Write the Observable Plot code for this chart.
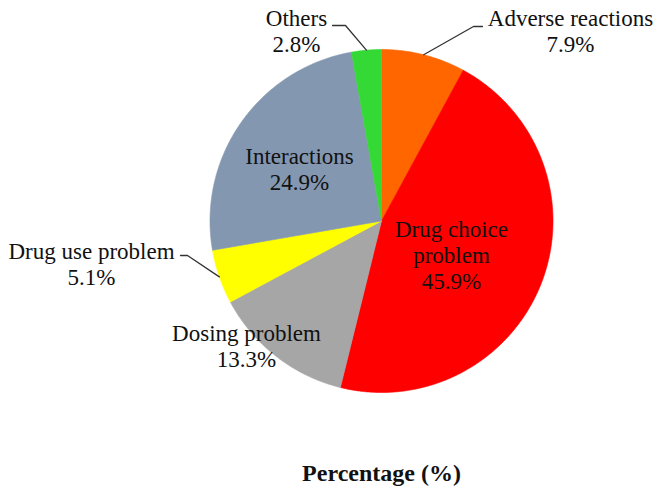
<!DOCTYPE html>
<html><head><meta charset="utf-8">
<script src="https://cdn.jsdelivr.net/npm/d3@7"></script>
<script src="https://cdn.jsdelivr.net/npm/@observablehq/plot@0.6"></script>
<style>body{margin:0;background:#fff}</style>
</head><body><div id="chart"></div>
<script>
// ---- data ----
const categories = ["Adverse reactions","Drug choice problem","Dosing problem","Drug use problem","Interactions","Others"];
const labelNames = ["Adverse reactions","Drug choice\nproblem","Dosing problem","Drug use problem","Interactions","Others"];
const values = [7.9, 45.9, 13.3, 5.1, 24.9, 2.8];
const colors = ["#FF6600","#FF0000","#A6A6A6","#FFFF00","#8497B0","#35D935"];
const titleText = "Percentage (%)";

// ---- layout (pixel placement of labels, in px of the 662x492 canvas) ----
const W = 662, H = 492, CX = 381, CY = 220.5, R = 171.5;
const labelPx = [[570,30],[451,254],[246,345],[91,263],[299,168],[296,30]];
const leaderPx = {0: [[473,26],[482,26]], 3: [[187,255],[180,255]], 5: [[345,25],[332,25]]};

const toX = px => (px - CX) / R;
const toY = py => (CY - py) / R;

// ---- slices via d3.pie ----
const arcs = d3.pie().sort(null).value(d => d)(values);
const slicePts = [];
arcs.forEach((a, i) => {
  const cat = categories[i];
  slicePts.push({cat, x: 0, y: 0});
  const n = Math.max(2, Math.ceil((a.endAngle - a.startAngle) / (Math.PI / 360)));
  for (let k = 0; k <= n; k++) {
    const t = a.startAngle + (a.endAngle - a.startAngle) * k / n;
    slicePts.push({cat, x: Math.sin(t), y: Math.cos(t)});
  }
  slicePts.push({cat, x: 0, y: 0});
});

const labels = categories.map((c, i) => ({
  cat: c,
  text: `${labelNames[i]}\n${values[i].toFixed(1)}%`,
  x: toX(labelPx[i][0]), y: toY(labelPx[i][1])
}));

const leaders = [];
Object.entries(leaderPx).forEach(([i, pts]) => {
  const a = arcs[+i], m = (a.startAngle + a.endAngle) / 2;
  const cat = categories[+i];
  leaders.push({cat, x: Math.sin(m), y: Math.cos(m)});
  pts.forEach(p => leaders.push({cat, x: toX(p[0]), y: toY(p[1])}));
});

const font = "'Liberation Serif', 'Times New Roman', serif";

const chart = Plot.plot({
  width: W, height: H,
  margin: 0,
  x: {domain: [toX(0), toX(W)], axis: null},
  y: {domain: [toY(H), toY(0)], axis: null},
  color: {domain: categories, range: colors},
  style: {fontFamily: font, background: "#fff"},
  marks: [
    Plot.line(slicePts, {x: "x", y: "y", z: "cat", fill: "cat", stroke: "cat", strokeWidth: 0.6, curve: "linear"}),
    Plot.line(leaders, {x: "x", y: "y", z: "cat", stroke: "#333", strokeWidth: 1.3}),
    Plot.text(labels, {x: "x", y: "y", text: "text", fontSize: 23, lineHeight: 1.15, fontFamily: font, fill: "#111"}),
    Plot.text([titleText], {x: [0], y: [toY(473)], text: d => d, fontSize: 24, fontWeight: "bold", fontFamily: font, fill: "#111"})
  ]
});
document.getElementById("chart").appendChild(chart);
</script>
</body></html>
